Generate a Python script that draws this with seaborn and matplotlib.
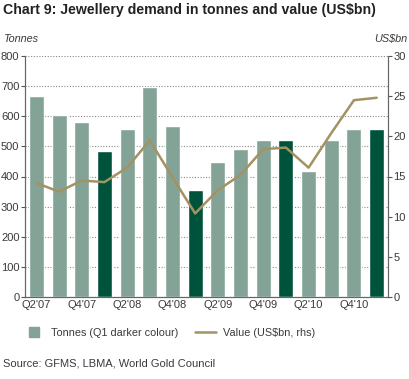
import numpy as np
import pandas as pd
import matplotlib
matplotlib.use('Agg')
import matplotlib.pyplot as plt
from matplotlib.lines import Line2D
import seaborn as sns

quarters = ["Q2'07", "Q3'07", "Q4'07", "Q1'08", "Q2'08", "Q3'08", "Q4'08", "Q1'09",
            "Q2'09", "Q3'09", "Q4'09", "Q1'10", "Q2'10", "Q3'10", "Q4'10", "Q1'11"]
tonnes = [667, 604, 581, 484, 557, 698, 567, 355,
          448, 491, 521, 521, 418, 521, 557, 557]
value_bn = [14.2, 13.1, 14.5, 14.3, 16.1, 19.5, 14.9, 10.4,
            13.3, 15.2, 18.4, 18.6, 16.1, 20.4, 24.5, 24.8]

light = '#84a397'
dark = '#00533b'
gold = '#a39262'
txt = '#3a3a3a'

df = pd.DataFrame({'quarter': quarters, 'tonnes': tonnes, 'value': value_bn})
df['pos'] = np.arange(len(df))
pal = {q: (dark if q.startswith('Q1') else light) for q in quarters}

sns.set_style('white')
plt.rcParams['font.family'] = ['Liberation Sans', 'DejaVu Sans']

fig = plt.figure(figsize=(4.1, 3.79), dpi=100)
ax = fig.add_axes([25 / 410, 1 - 297 / 379, 363 / 410, 241 / 379])

sns.barplot(data=df, x='quarter', y='tonnes', hue='quarter', palette=pal,
            width=0.66, legend=False, saturation=1, ax=ax, zorder=2)
ax.set_xlim(-0.5, len(df) - 0.5)
ax.set_ylim(0, 800)
ax.set_yticks(range(0, 801, 100))
ax.yaxis.grid(True, linestyle=(0, (1, 1.5)), color='#888888', linewidth=0.8, zorder=0)
ax.set_axisbelow(True)

ax.set_xticks(range(0, len(df), 2))
ax.set_xticklabels(quarters[::2])
ax.set_xticks(np.arange(0.5, len(df) - 1, 1), minor=True)
ax.tick_params(axis='x', which='both', length=3, width=0.8, color='#555555',
               labelsize=8, labelcolor=txt, pad=2)
ax.tick_params(axis='x', which='major', length=0)
ax.tick_params(axis='y', length=3, width=0.8, color='#555555', labelsize=8,
               labelcolor=txt, pad=1)
ax.set_xlabel('')
ax.set_ylabel('')

ax2 = ax.twinx()
sns.lineplot(data=df, x='pos', y='value', color=gold, linewidth=1.8, ax=ax2, zorder=3)
ax2.set_ylim(0, 30)
ax2.set_yticks(range(0, 31, 5))
ax2.tick_params(axis='y', length=3, width=0.8, color='#555555', labelsize=8,
                labelcolor=txt, pad=1)
ax2.set_ylabel('')
ax2.set_xlabel('')

for a in (ax, ax2):
    a.spines['top'].set_visible(False)
    for s in ('left', 'right', 'bottom'):
        a.spines[s].set_color('#666666')
        a.spines[s].set_linewidth(0.8)

fig.text(3 / 410, 1 - 10 / 379, 'Chart 9: Jewellery demand in tonnes and value (US$bn)',
         fontsize=10.2, fontweight='bold', color='#222222', va='center', ha='left')
fig.text(3 / 410, 1 - 39 / 379, 'Tonnes', fontsize=7.8, style='italic', color=txt,
         va='center', ha='left')
fig.text(407 / 410, 1 - 39 / 379, 'US$bn', fontsize=7.8, style='italic', color=txt,
         va='center', ha='right')

handles = [Line2D([0], [0], marker='s', color=light, linestyle='none', markersize=7.5),
           Line2D([0], [0], color=gold, linewidth=1.8)]
fig.legend(handles, ['Tonnes (Q1 darker colour)', 'Value (US$bn, rhs)'],
           loc='center left', bbox_to_anchor=(14 / 410, 1 - 333 / 379), ncol=2,
           frameon=False, fontsize=7.8, labelcolor=txt, handlelength=1.9,
           columnspacing=1.6, handletextpad=0.6)

fig.text(3 / 410, 1 - 363 / 379, 'Source: GFMS, LBMA, World Gold Council', fontsize=8,
         color=txt, va='center', ha='left')

fig.savefig('out.png', dpi=100)
